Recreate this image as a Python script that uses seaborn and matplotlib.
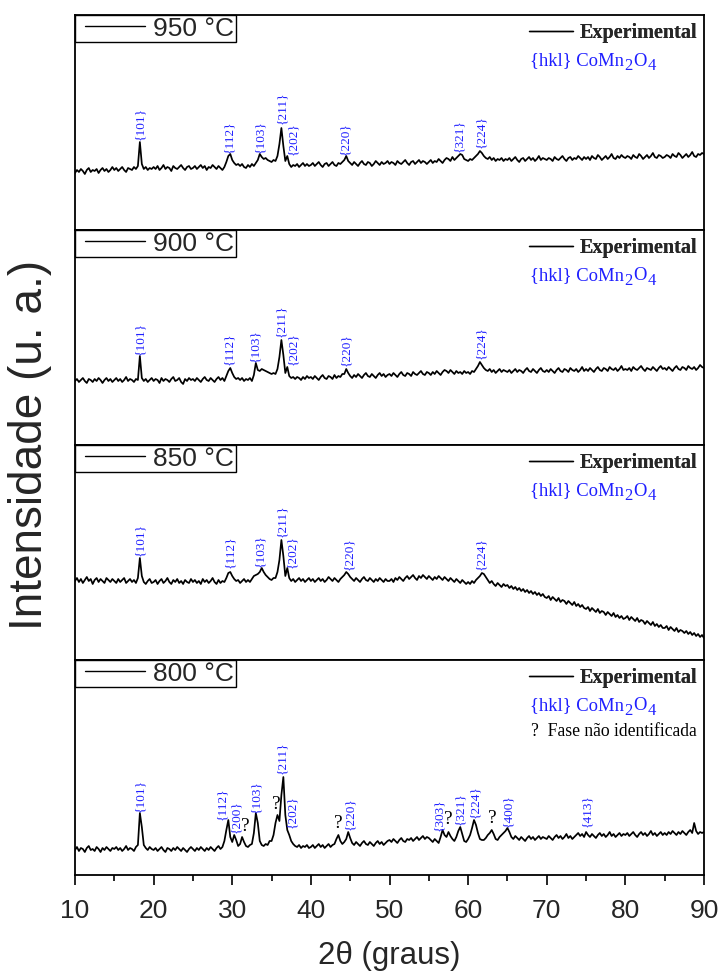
import numpy as np
import pandas as pd
import seaborn as sns
import matplotlib
matplotlib.use("Agg")
import matplotlib.pyplot as plt
from matplotlib.lines import Line2D
from matplotlib.legend_handler import HandlerLine2D
from matplotlib.font_manager import FontProperties
from matplotlib.ticker import MultipleLocator

# ---- XRD patterns, 2theta from 10 to 90 deg, 0.25 deg step (arbitrary units) ----
I_950 = [
    [57, 60, 58, 61, 59, 56, 60, 62, 58, 60, 59, 61, 57, 60, 62, 59, 61, 58, 60, 63],
    [60, 62, 59, 61, 63, 60, 58, 62, 61, 60, 63, 61, 64, 88, 66, 61, 63, 60, 62, 61],
    [63, 61, 64, 60, 62, 65, 61, 63, 62, 59, 64, 62, 61, 63, 65, 62, 60, 63, 64, 61],
    [62, 64, 61, 63, 65, 62, 64, 60, 63, 62, 65, 63, 61, 64, 62, 60, 63, 68, 74, 76],
    [70, 67, 65, 66, 64, 66, 63, 62, 65, 63, 66, 64, 67, 70, 76, 73, 71, 72, 70, 69],
    [68, 70, 69, 74, 86, 102, 84, 69, 74, 66, 63, 65, 64, 66, 63, 65, 67, 64, 66, 64],
    [65, 67, 64, 66, 68, 65, 63, 66, 67, 64, 66, 68, 65, 64, 67, 66, 68, 70, 74, 69],
    [67, 65, 68, 66, 64, 67, 69, 66, 65, 68, 67, 64, 66, 69, 67, 65, 68, 66, 67, 69],
    [66, 68, 67, 65, 69, 67, 66, 68, 70, 67, 65, 68, 69, 66, 68, 70, 67, 69, 68, 66],
    [68, 70, 67, 69, 68, 71, 69, 67, 70, 72, 71, 69, 73, 70, 72, 74, 76, 75, 71, 70],
    [69, 71, 70, 72, 74, 76, 79, 77, 74, 72, 71, 73, 70, 72, 69, 71, 70, 72, 69, 71],
    [70, 72, 69, 71, 73, 70, 68, 71, 72, 69, 71, 73, 70, 72, 69, 71, 74, 70, 72, 71],
    [70, 72, 71, 69, 73, 71, 70, 72, 74, 71, 69, 72, 73, 70, 72, 71, 74, 72, 70, 73],
    [71, 73, 70, 74, 72, 71, 75, 73, 70, 72, 74, 71, 73, 76, 72, 71, 74, 72, 75, 73],
    [72, 74, 73, 71, 75, 73, 72, 76, 74, 71, 73, 75, 72, 74, 77, 73, 72, 75, 74, 72],
    [73, 75, 74, 72, 76, 74, 73, 77, 75, 72, 74, 76, 73, 75, 78, 74, 73, 76, 75, 77],
    [76],
]
I_900 = [
    [64, 66, 63, 65, 67, 64, 62, 66, 65, 63, 66, 64, 67, 65, 62, 65, 67, 64, 66, 63],
    [65, 67, 64, 66, 63, 65, 68, 64, 66, 65, 63, 66, 65, 89, 67, 64, 66, 63, 65, 67],
    [64, 66, 65, 62, 67, 64, 66, 65, 63, 66, 68, 64, 65, 67, 63, 61, 66, 64, 67, 65],
    [66, 64, 67, 65, 63, 66, 68, 65, 64, 67, 65, 63, 66, 68, 65, 67, 64, 69, 74, 77],
    [72, 68, 66, 67, 65, 67, 64, 66, 65, 67, 64, 70, 82, 75, 74, 76, 75, 74, 73, 72],
    [71, 72, 71, 76, 88, 105, 90, 72, 78, 69, 67, 68, 66, 68, 67, 65, 68, 66, 69, 67],
    [68, 66, 69, 67, 65, 68, 70, 67, 66, 69, 68, 66, 70, 67, 69, 68, 71, 71, 76, 72],
    [69, 67, 70, 68, 71, 69, 67, 70, 72, 69, 68, 71, 69, 67, 70, 72, 69, 71, 68, 70],
    [71, 69, 72, 70, 68, 71, 73, 70, 69, 72, 71, 69, 73, 71, 70, 72, 74, 71, 70, 73],
    [72, 70, 73, 71, 74, 72, 70, 73, 75, 74, 72, 75, 73, 71, 74, 72, 73, 71, 74, 72],
    [73, 71, 74, 73, 76, 79, 83, 80, 77, 75, 74, 76, 73, 75, 72, 74, 76, 73, 75, 74],
    [73, 75, 72, 74, 76, 73, 75, 74, 72, 75, 77, 74, 73, 76, 74, 72, 75, 77, 74, 73],
    [75, 73, 76, 74, 72, 75, 77, 74, 73, 76, 75, 73, 77, 75, 74, 76, 73, 75, 78, 74],
    [76, 74, 77, 75, 73, 76, 78, 75, 74, 77, 76, 74, 78, 76, 75, 77, 74, 76, 79, 75],
    [76, 75, 77, 74, 78, 76, 75, 77, 79, 76, 74, 77, 76, 75, 78, 76, 74, 77, 79, 76],
    [77, 75, 78, 76, 74, 77, 79, 76, 75, 78, 77, 75, 79, 77, 76, 78, 75, 77, 80, 78],
    [77],
]
I_850 = [
    [79, 82, 78, 81, 77, 80, 83, 79, 81, 76, 80, 82, 78, 81, 79, 77, 82, 80, 78, 81],
    [79, 77, 81, 78, 80, 82, 77, 79, 81, 78, 80, 77, 82, 102, 84, 78, 76, 79, 81, 77],
    [78, 80, 76, 79, 81, 77, 79, 82, 78, 76, 80, 78, 81, 77, 79, 76, 80, 78, 77, 81],
    [78, 80, 77, 79, 76, 81, 78, 80, 77, 79, 82, 78, 76, 80, 77, 79, 78, 82, 87, 88],
    [84, 81, 79, 80, 77, 79, 81, 78, 80, 78, 81, 84, 85, 86, 88, 92, 88, 85, 83, 81],
    [80, 82, 82, 88, 100, 120, 104, 84, 92, 82, 79, 81, 78, 80, 82, 79, 81, 78, 80, 82],
    [79, 81, 78, 80, 82, 79, 81, 78, 80, 83, 81, 79, 82, 80, 78, 81, 83, 85, 88, 86],
    [83, 81, 79, 82, 80, 78, 81, 83, 80, 79, 82, 80, 78, 81, 79, 82, 80, 78, 81, 79],
    [79, 81, 78, 82, 80, 83, 81, 79, 82, 84, 81, 83, 85, 82, 80, 84, 82, 85, 83, 81],
    [84, 82, 80, 83, 81, 84, 82, 80, 83, 81, 79, 82, 80, 78, 81, 79, 77, 80, 78, 76],
    [78, 76, 79, 77, 80, 82, 84, 87, 86, 83, 80, 77, 79, 76, 74, 77, 75, 73, 76, 74],
    [75, 72, 74, 71, 73, 70, 72, 69, 71, 68, 70, 67, 69, 66, 68, 65, 67, 64, 66, 63],
    [62, 64, 60, 63, 61, 59, 62, 58, 60, 59, 56, 59, 57, 55, 58, 54, 56, 53, 55, 52],
    [51, 53, 49, 52, 50, 48, 51, 47, 49, 48, 45, 48, 46, 44, 47, 43, 45, 42, 44, 41],
    [42, 44, 40, 43, 41, 39, 42, 38, 40, 39, 36, 39, 37, 35, 38, 34, 36, 33, 35, 32],
    [32, 34, 30, 33, 31, 29, 32, 28, 30, 29, 27, 29, 26, 28, 25, 27, 24, 26, 23, 25],
    [22],
]
I_800 = [
    [25, 28, 24, 27, 26, 23, 27, 29, 25, 26, 24, 28, 26, 23, 27, 25, 28, 26, 24, 27],
    [26, 28, 25, 27, 24, 26, 29, 25, 27, 26, 24, 28, 30, 62, 48, 30, 27, 25, 28, 26],
    [25, 27, 24, 26, 28, 25, 23, 27, 26, 24, 27, 25, 28, 26, 24, 27, 25, 23, 26, 28],
    [26, 24, 27, 25, 28, 26, 24, 27, 25, 28, 26, 24, 27, 29, 26, 28, 34, 45, 55, 38],
    [33, 40, 35, 29, 31, 38, 33, 29, 28, 30, 31, 42, 62, 52, 34, 30, 29, 31, 30, 34],
    [34, 40, 52, 60, 54, 80, 98, 60, 45, 40, 34, 31, 29, 28, 30, 27, 29, 28, 30, 27],
    [28, 30, 27, 29, 31, 28, 30, 27, 29, 31, 28, 30, 31, 36, 40, 34, 31, 33, 36, 43],
    [37, 32, 30, 33, 31, 29, 32, 34, 31, 30, 33, 31, 29, 32, 34, 31, 33, 30, 32, 34],
    [35, 33, 36, 34, 32, 35, 37, 34, 33, 36, 35, 37, 34, 36, 38, 35, 37, 39, 36, 38],
    [37, 35, 33, 36, 34, 32, 38, 45, 40, 38, 43, 39, 36, 34, 38, 44, 48, 41, 34, 33],
    [36, 40, 47, 55, 50, 42, 36, 35, 35, 37, 40, 42, 45, 41, 36, 35, 38, 40, 42, 44],
    [47, 43, 38, 36, 39, 37, 35, 38, 36, 34, 37, 39, 36, 38, 35, 37, 39, 36, 38, 37],
    [36, 39, 37, 35, 38, 40, 37, 39, 36, 38, 41, 37, 39, 36, 38, 40, 42, 39, 41, 38],
    [43, 40, 38, 41, 39, 37, 40, 42, 39, 41, 38, 40, 43, 39, 41, 38, 40, 42, 39, 41],
    [40, 42, 39, 41, 43, 40, 38, 41, 43, 40, 42, 39, 41, 44, 40, 42, 39, 41, 43, 40],
    [42, 40, 43, 41, 44, 42, 40, 43, 41, 44, 42, 40, 43, 45, 42, 52, 44, 41, 43, 42],
    [43],
]

temperatures = ["950 °C", "900 °C", "850 °C", "800 °C"]

# Miller indices of CoMn2O4 reflections: label, 2theta of label, base height of label
hkl_950 = ["{101}", "{112}", "{103}", "{211}", "{202}", "{220}", "{321}", "{224}"]
hkl_950_x = [18.3, 29.6, 33.6, 36.3, 37.7, 44.4, 58.8, 61.6]
hkl_950_y = [90, 77, 77, 106, 75, 75, 78, 82]

hkl_900 = ["{101}", "{112}", "{103}", "{211}", "{202}", "{220}", "{224}"]
hkl_900_x = [18.3, 29.6, 32.95, 36.2, 37.75, 44.5, 61.6]
hkl_900_y = [90, 80, 83, 108, 80, 79, 86]

hkl_850 = ["{101}", "{112}", "{103}", "{211}", "{202}", "{220}", "{224}"]
hkl_850_x = [18.3, 29.7, 33.5, 36.3, 37.65, 44.9, 61.6]
hkl_850_y = [104, 92, 93, 123, 92, 90, 90]

hkl_800 = ["{101}", "{112}", "{200}", "{103}", "{211}", "{202}", "{220}",
           "{303}", "{321}", "{224}", "{400}", "{413}"]
hkl_800_x = [18.3, 28.65, 30.5, 33.1, 36.4, 37.65, 45.0, 56.35, 58.95, 60.9, 65.1, 75.1]
hkl_800_y = [63, 55, 42, 62, 101, 47, 45, 44, 50, 57, 48, 48]

# unidentified phase reflections (800 °C)
unknown_800_x = [31.6, 35.65, 43.5, 57.5, 63.1]
unknown_800_y = [40, 62, 43, 47, 48]

patterns = [I_950, I_900, I_850, I_800]
hkl_sets = [(hkl_950, hkl_950_x, hkl_950_y), (hkl_900, hkl_900_x, hkl_900_y),
            (hkl_850, hkl_850_x, hkl_850_y), (hkl_800, hkl_800_x, hkl_800_y)]

sns.set_style("white")
plt.rcParams["font.family"] = ["Liberation Sans", "DejaVu Sans"]

W, H = 720, 976
fig, axes = plt.subplots(4, 1, figsize=(W / 100, H / 100), dpi=100, sharex=True)
fig.subplots_adjust(left=75 / W, right=704 / W, top=1 - 15 / H, bottom=1 - 875 / H, hspace=0)

serif = "Liberation Serif"
blue = "#1f1fff"


def phase_caption(ax):
    """'{hkl} CoMn2O4' with lowered subscripts, built from chained text pieces."""
    kw = dict(color=blue, family=serif)
    t1 = ax.text((530 - 75) / 629, 1 - 46 / 215, "{hkl} CoMn", transform=ax.transAxes,
                 ha="left", va="center", fontsize=13.4, **kw)
    t2 = ax.annotate("2", xy=(1, 0), xycoords=t1, xytext=(0.4, -3.2),
                     textcoords="offset points", ha="left", va="bottom", fontsize=12, **kw)
    t3 = ax.annotate("O", xy=(1, 0), xycoords=(t2, t1), xytext=(0.4, 0),
                     textcoords="offset points", ha="left", va="bottom", fontsize=13.4, **kw)
    ax.annotate("4", xy=(1, 0), xycoords=(t3, t2), xytext=(0.4, 0),
                textcoords="offset points", ha="left", va="bottom", fontsize=12, **kw)


for i, (ax, rows, temp, (labs, lx, ly)) in enumerate(zip(axes, patterns, temperatures, hkl_sets)):
    inten = np.concatenate([np.asarray(r, dtype=float) for r in rows])
    two_theta = 10 + 0.25 * np.arange(inten.size)
    df = pd.DataFrame({"two_theta": two_theta, "intensity": inten})
    sns.lineplot(data=df, x="two_theta", y="intensity", ax=ax, color="black",
                 linewidth=1.25, estimator=None, legend=False)

    ax.set_xlim(10, 90)
    ax.set_ylim(0, 215)
    ax.set_yticks([])
    ax.set_ylabel("")
    ax.set_xlabel("")
    for sp in ax.spines.values():
        sp.set_color("black")
        sp.set_linewidth(1.3)

    # peak indexing
    for t, x, y in zip(labs, lx, ly):
        ax.text(x, y, t, rotation=90, ha="center", va="bottom", color=blue,
                fontsize=9.5, family=serif)
    if i == 3:
        for x, y in zip(unknown_800_x, unknown_800_y):
            ax.text(x, y, "?", ha="center", va="bottom", color="black",
                    fontsize=14, family=serif)

    # temperature legend box
    temp_leg = ax.legend(handles=[Line2D([], [], color="black", lw=1.0)], labels=[temp],
                         loc="upper left", bbox_to_anchor=(0, 1), borderaxespad=0,
                         borderpad=0.06, handlelength=2.6, handletextpad=0.3,
                         frameon=True, fancybox=False, framealpha=1, edgecolor="black",
                         prop=FontProperties(family="Liberation Sans", size=19),
                         handler_map={Line2D: HandlerLine2D(xpad=0.33)})
    temp_leg.get_frame().set_linewidth(1.0)
    ax.add_artist(temp_leg)

    # series legend
    exp_leg = ax.legend(handles=[Line2D([], [], color="black", lw=1.0)], labels=["Experimental"],
                        loc="center right", bbox_to_anchor=((697 - 75) / 629, 1 - 18 / 215),
                        borderaxespad=0, borderpad=0, handlelength=2.2, handletextpad=0.3,
                        frameon=False,
                        prop=FontProperties(family=serif, size=14.5, weight="bold"))
    ax.add_artist(exp_leg)
    phase_caption(ax)
    if i == 3:
        ax.text((697 - 75) / 629, 1 - 71 / 215, "?  Fase não identificada",
                transform=ax.transAxes, ha="right", va="center", color="black",
                fontsize=12.7, family=serif)

    if i < 3:
        ax.tick_params(axis="x", which="both", bottom=False, labelbottom=False)

bottom = axes[-1]
bottom.xaxis.set_major_locator(MultipleLocator(10))
bottom.xaxis.set_minor_locator(MultipleLocator(5))
bottom.tick_params(axis="x", which="major", bottom=True, direction="out", length=7,
                   width=1.2, color="black", labelsize=19, pad=10)
bottom.tick_params(axis="x", which="minor", bottom=True, direction="out", length=4,
                   width=1.2, color="black")
bottom.set_xlabel("2θ (graus)", fontsize=22.5, labelpad=13)

fig.text(30 / W, 1 - 445 / H, "Intensidade (u. a.)", rotation=90, ha="center", va="center",
         fontsize=33)

fig.savefig("out.png", dpi=100)
